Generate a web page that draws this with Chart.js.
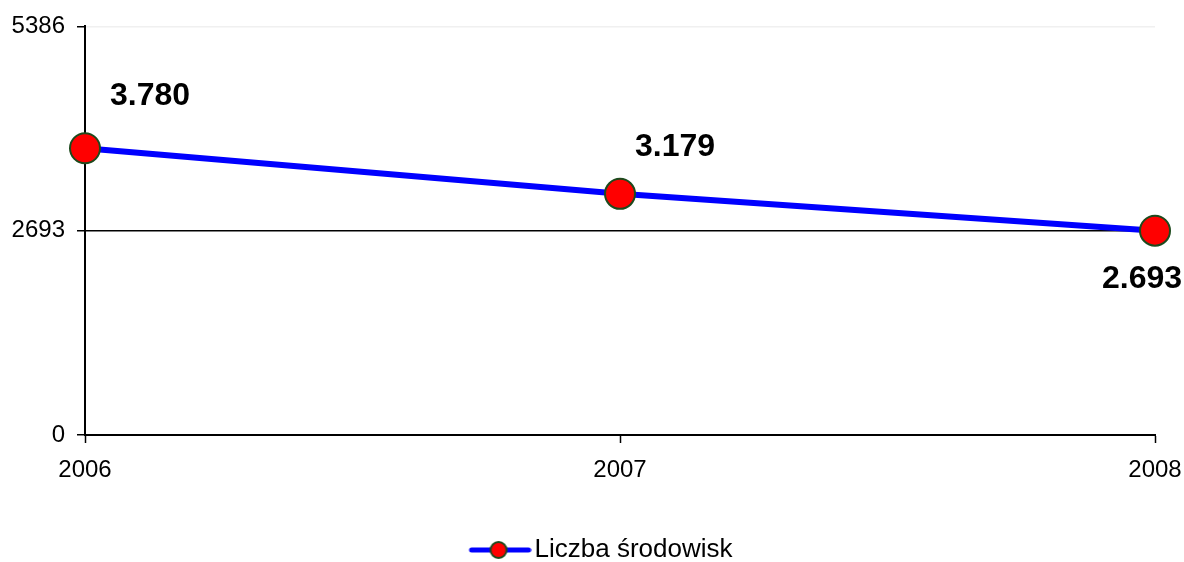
<!DOCTYPE html>
<html>
<head>
<meta charset="utf-8">
<script src="https://cdn.jsdelivr.net/npm/chart.js@4.4.0/dist/chart.umd.min.js"></script>
<style>
  html, body { margin: 0; padding: 0; background: #fff; }
  #wrap { width: 1184px; height: 562px; }
</style>
</head>
<body>
<div id="wrap"><canvas id="lineChart" width="1184" height="562"></canvas></div>
<script>
// Liczba środowisk 2006-2008
const years = ['2006', '2007', '2008'];
const counts = [3780, 3179, 2693];
const yTicks = [0, 2693, 5386];
const seriesName = 'Liczba środowisk';

// label offsets relative to each point (px)
const labelOffsets = [[65, -52], [55, -47], [-13, 48]];

const FONT = '"Liberation Sans", Arial, sans-serif';

function plFormat(v) {
    return v.toLocaleString('de-DE'); // 3.780 style grouping
}

// legend marker: line with a dot, drawn in the right part of a wider image
function legendMarker() {
    const c = document.createElement('canvas');
    c.width = 90; c.height = 22;
    const g = c.getContext('2d');
    g.strokeStyle = '#0000ff';
    g.lineWidth = 5;
    g.lineCap = 'round';
    g.beginPath(); g.moveTo(30, 11); g.lineTo(87, 11); g.stroke();
    g.fillStyle = '#ff0000';
    g.strokeStyle = '#1d4a1d';
    g.lineWidth = 2;
    g.beginPath(); g.arc(57, 11, 8, 0, Math.PI * 2); g.fill(); g.stroke();
    return c;
}

const valueLabels = {
    id: 'valueLabels',
    afterDatasetsDraw(chart) {
        const ctx = chart.ctx;
        const meta = chart.getDatasetMeta(0);
        ctx.save();
        ctx.font = 'bold 32px ' + FONT;
        ctx.fillStyle = '#000';
        ctx.textAlign = 'center';
        ctx.textBaseline = 'middle';
        meta.data.forEach((pt, i) => {
            const off = labelOffsets[i];
            ctx.fillText(plFormat(counts[i]), pt.x + off[0], pt.y + off[1]);
        });
        ctx.restore();
    }
};

const marker = legendMarker();

new Chart(document.getElementById('lineChart').getContext('2d'), {
    type: 'line',
    data: {
        labels: years,
        datasets: [{
            label: seriesName,
            data: counts,
            borderColor: '#0000ff',
            borderWidth: 6,
            backgroundColor: '#ff0000',
            pointBackgroundColor: '#ff0000',
            pointBorderColor: '#1d4a1d',
            pointBorderWidth: 2,
            pointRadius: 15,
            pointHoverRadius: 15,
            tension: 0,
            clip: false
        }]
    },
    options: {
        responsive: false,
        animation: false,
        layout: { padding: { top: 24, right: 0, left: 0, bottom: -11 } },
        scales: {
            x: {
                offset: false,
                grid: {
                    drawOnChartArea: false,
                    drawTicks: true,
                    tickLength: 8,
                    tickColor: '#000',
                    tickWidth: 1.5
                },
                border: { display: true, color: '#000', width: 2 },
                ticks: {
                    color: '#000',
                    padding: 13,
                    font: { family: FONT, size: 24 }
                },
                afterFit(axis) {
                    axis.height = 102;
                    axis.paddingLeft = 0;
                    axis.paddingRight = 29;
                }
            },
            y: {
                min: 0,
                max: 5386,
                afterBuildTicks(axis) {
                    axis.ticks = yTicks.map(v => ({ value: v }));
                },
                grid: {
                    color: ctx => (ctx.tick && ctx.tick.value === 5386) ? '#f0f0f0' : '#000',
                    lineWidth: 1.5,
                    tickLength: 8,
                    tickColor: '#000',
                    tickWidth: 1.5
                },
                border: { display: true, color: '#000', width: 2 },
                ticks: {
                    color: '#000',
                    padding: 12,
                    font: { family: FONT, size: 24 },
                    callback: v => String(v)
                },
                afterFit(axis) { axis.width = 85; }
            }
        },
        plugins: {
            tooltip: { enabled: false },
            legend: {
                position: 'bottom',
                labels: {
                    color: '#000',
                    font: { family: FONT, size: 26 },
                    usePointStyle: true,
                    pointStyle: marker,
                    pointStyleWidth: 70,
                    padding: 0,
                    generateLabels(chart) {
                        return [{
                            text: seriesName,
                            pointStyle: marker,
                            fillStyle: '#ff0000',
                            strokeStyle: '#0000ff',
                            lineWidth: 0,
                            hidden: false,
                            datasetIndex: 0
                        }];
                    }
                }
            }
        }
    },
    plugins: [valueLabels]
});
</script>
</body>
</html>
